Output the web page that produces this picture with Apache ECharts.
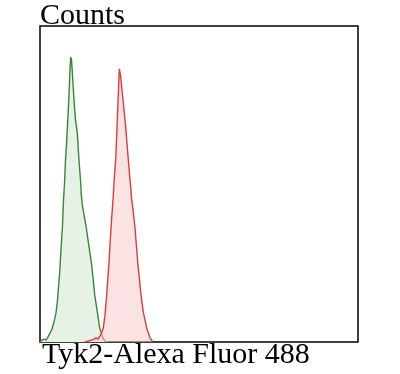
<!DOCTYPE html>
<html>
<head>
<meta charset="utf-8">
<script src="https://cdn.jsdelivr.net/npm/echarts@6/dist/echarts.min.js"></script>
<style>html,body{margin:0;padding:0;background:#fff}#c{width:400px;height:374px}</style>
</head>
<body>
<div id="c"></div>
<script>
// Traced outlines: fluorescence channel (0-1000) and relative counts (0-100)
var isotypeX = [0, 6.3, 12.6, 18.9, 25.2, 31.4, 37.7, 44.0, 50.3, 55.0, 61.3, 67.0, 70.8, 73.9, 77.7, 80.2, 83.3, 88.1, 91.2, 94.3, 96.5, 99.1, 102.2, 106.9, 111.6, 117.3, 122.6, 128.0, 129.9, 133.0, 138.4, 145.6, 150.9, 161.3, 166.7, 172.0, 180.2, 187.7, 198.1, 204.4, 210.7];
var isotypeY = [0, 0.6, 0.9, 0.6, 1.6, 2.8, 4.1, 6.3, 9.2, 13.3, 21.2, 30.7, 37.0, 44.9, 51.3, 57.6, 62.3, 71.8, 78.2, 86.1, 90.2, 89.2, 84.5, 76.6, 70.3, 66.1, 57.6, 50.3, 46.5, 43.4, 40.2, 36.1, 32.3, 25.3, 20.3, 14.9, 9.5, 4.4, 1.3, 0.3, 0];
var tyk2X = [141.5, 151.0, 160.4, 169.8, 176.1, 182.4, 188.7, 195.0, 199.0, 204.4, 209.7, 217.0, 223.3, 230.5, 234.3, 238.1, 244.3, 247.5, 249.4, 253.1, 258.8, 264.2, 269.5, 277.7, 283.0, 285.2, 288.4, 293.4, 298.7, 307.2, 317.6, 324.8, 335.5, 345.9, 355.3];
var tyk2Y = [0, 0.3, 0.6, 0.9, 1.3, 0.9, 1.9, 3.2, 4.4, 8.5, 14.9, 25.3, 36.1, 46.5, 52.8, 57.6, 73.4, 81.3, 86.4, 84.5, 78.8, 73.4, 68.0, 57.6, 51.3, 49.1, 44.9, 41.1, 36.1, 25.3, 14.9, 9.5, 4.4, 1.3, 0];
var xTitle = 'Tyk2-Alexa Fluor 488';
var yTitle = 'Counts';

function pairs(xs, ys) { return xs.map(function (x, i) { return [x, ys[i]]; }); }

var chart = echarts.init(document.getElementById('c'), null, {renderer: 'canvas'});
chart.setOption({
  animation: false,
  grid: {left: 40, right: 42, top: 26, bottom: 32, show: true, borderColor: '#000', borderWidth: 1.5, backgroundColor: 'transparent'},
  xAxis: {type: 'value', min: 0, max: 1000, axisLine: {show: false}, axisTick: {show: false}, axisLabel: {show: false}, splitLine: {show: false}},
  yAxis: {type: 'value', min: 0, max: 100, axisLine: {show: false}, axisTick: {show: false}, axisLabel: {show: false}, splitLine: {show: false}},
  graphic: [
    {type: 'text', left: 40, top: 1, style: {text: yTitle, font: '30px "Liberation Serif"', fill: '#000'}},
    {type: 'text', left: 42, top: 340, style: {text: xTitle, font: '30px "Liberation Serif"', fill: '#000'}}
  ],
  series: [
    {type: 'line', data: pairs(isotypeX, isotypeY), showSymbol: false, smooth: false,
     lineStyle: {color: '#3a843a', width: 1.4}, areaStyle: {color: '#e6f2e6', opacity: 1}, z: 2},
    {type: 'line', data: pairs(tyk2X, tyk2Y), showSymbol: false, smooth: false,
     lineStyle: {color: '#dc3c3c', width: 1.4}, areaStyle: {color: 'rgba(250,200,200,0.5)', opacity: 1}, z: 3}
  ]
});
</script>
</body>
</html>
